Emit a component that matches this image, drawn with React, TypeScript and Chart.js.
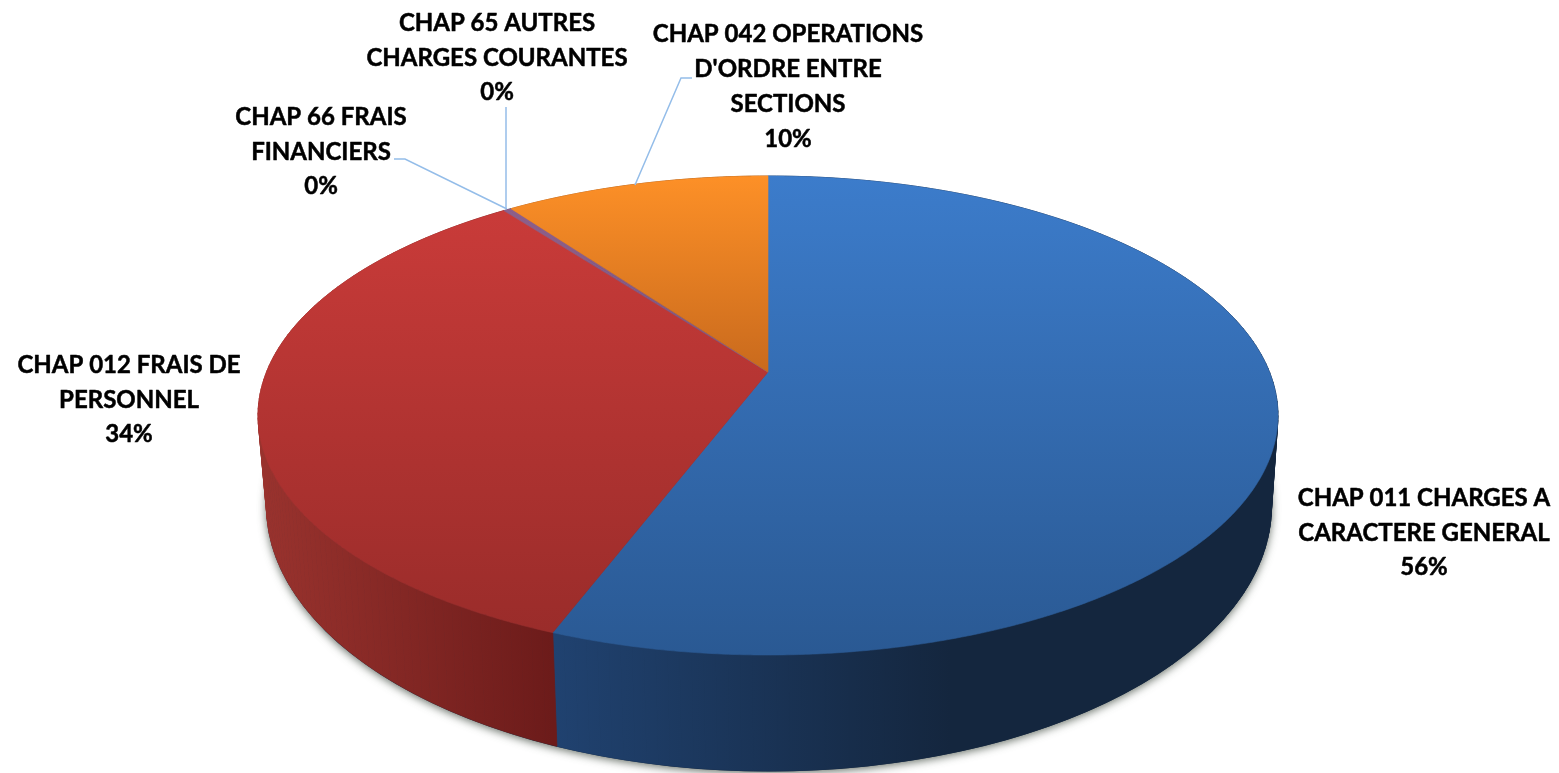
import React, { useEffect, useRef } from "react";
import { Chart, registerables } from "chart.js";

Chart.register(...registerables);

const categories = [
  "CHAP 011 CHARGES A CARACTERE GENERAL",
  "CHAP 012 FRAIS DE PERSONNEL",
  "CHAP 66 FRAIS FINANCIERS",
  "CHAP 65 AUTRES CHARGES COURANTES",
  "CHAP 042 OPERATIONS D'ORDRE ENTRE SECTIONS",
];
const values = [55.8, 33.9, 0.15, 0.15, 10.0];
const labelLines = [
  ["CHAP 011 CHARGES A", "CARACTERE GENERAL"],
  ["CHAP 012 FRAIS DE", "PERSONNEL"],
  ["CHAP 66 FRAIS", "FINANCIERS"],
  ["CHAP 65 AUTRES", "CHARGES COURANTES"],
  ["CHAP 042 OPERATIONS", "D'ORDRE ENTRE", "SECTIONS"],
];
const faceTop = ["#3c7ccb", "#c93b39", "#8c5f8c", "#8c5f8c", "#fd9027"];
const faceBottom = ["#2a5993", "#9a2c2a", "#835a82", "#835a82", "#c96a1d"];
const wallLeft = ["#204270", "#9a332e", "#4c3b62", "#2c6675", "#a85716"];
const wallRight = ["#14263e", "#6c1b1a", "#3c2f4e", "#235260", "#8a4712"];

const labelBoxes = [
  { x: 1424, y: 498 },
  { x: 129, y: 365 },
  { x: 321, y: 117 },
  { x: 497, y: 23 },
  { x: 788, y: 34.5 },
];
const leaders = [
  null,
  null,
  [[394, 159], [405, 159], [507, 209]],
  [[506, 107], [506, 209]],
  [[692, 78], [681, 78], [635, 185]],
];

// Perspective model of the pie's top face and the elliptical bottom rim
const VIEW = {
  apexX: 768, apexY: 372, a: 501.5, b: 231.6, k: 0.1816,
  topCy: 415.5, topRx: 510.5, topRy: 240,
  lowCx: 769, lowCy: 506, lowRx: 503, lowRy: 265.5,
};
const LINE = 34.8;
const FONT = "bold 24px Lato, 'Open Sans', sans-serif";

function projectTop(angle: number) {
  const ux = Math.cos(angle), uy = Math.sin(angle);
  const w = 1 - VIEW.k * uy;
  return { x: VIEW.apexX + (VIEW.a * ux) / w, y: VIEW.apexY + (VIEW.b * uy) / w };
}
function projectLow(angle: number) {
  const p = projectTop(angle);
  return {
    x: VIEW.lowCx + (VIEW.lowRx * (p.x - VIEW.apexX)) / VIEW.topRx,
    y: VIEW.lowCy + (VIEW.lowRy * (p.y - VIEW.topCy)) / VIEW.topRy,
  };
}
function ring(a0: number, a1: number, fn: (a: number) => { x: number; y: number }, step = 0.006) {
  const n = Math.max(2, Math.ceil(Math.abs(a1 - a0) / step));
  const out = [];
  for (let i = 0; i <= n; i++) out.push(fn(a0 + ((a1 - a0) * i) / n));
  return out;
}

const pie3d = {
  id: "pie3d",
  beforeDatasetsDraw(chart: any) {
    const ctx: CanvasRenderingContext2D = chart.ctx;
    const arcs = chart.getDatasetMeta(0).data;

    // soft shadow under the bottom rim
    ctx.save();
    ctx.shadowColor = "rgba(70,80,70,0.8)";
    ctx.shadowBlur = 9;
    ctx.shadowOffsetY = 2;
    ctx.fillStyle = "#14263e";
    ctx.beginPath();
    ctx.ellipse(VIEW.lowCx, VIEW.lowCy, VIEW.lowRx, VIEW.lowRy, 0, 0, Math.PI * 2);
    ctx.fill();
    ctx.restore();

    // side walls, filled strip by strip so the silhouette between rims is closed
    arcs.forEach((arc: any, i: number) => {
      const top = ring(arc.startAngle, arc.endAngle, projectTop, 0.02);
      const low = ring(arc.startAngle, arc.endAngle, projectLow, 0.02);
      const visible = top.filter((p) => p.y > VIEW.topCy).map((p) => p.x);
      const xs = visible.length ? visible : top.map((p) => p.x);
      const g = ctx.createLinearGradient(Math.min(...xs), 0, Math.max(...xs), 0);
      if (i === 0) {
        g.addColorStop(0, wallLeft[i]);
        g.addColorStop(0.55, wallRight[i]);
        g.addColorStop(1, wallRight[i]);
      } else {
        g.addColorStop(0, wallLeft[i]);
        g.addColorStop(1, wallRight[i]);
      }
      ctx.fillStyle = g;
      ctx.strokeStyle = g;
      ctx.lineWidth = 0.8;
      for (let j = 0; j < top.length - 1; j++) {
        ctx.beginPath();
        ctx.moveTo(top[j].x, top[j].y);
        ctx.lineTo(top[j + 1].x, top[j + 1].y);
        ctx.lineTo(low[j + 1].x, low[j + 1].y);
        ctx.lineTo(low[j].x, low[j].y);
        ctx.closePath();
        ctx.fill();
        ctx.stroke();
      }
    });

    // top faces
    arcs.forEach((arc: any, i: number) => {
      const pts = ring(arc.startAngle, arc.endAngle, projectTop);
      pts.push({ x: VIEW.apexX, y: VIEW.apexY });
      const ys = pts.map((p) => p.y);
      const g = ctx.createLinearGradient(0, Math.min(...ys), 0, Math.max(...ys));
      g.addColorStop(0, faceTop[i]);
      g.addColorStop(1, faceBottom[i]);
      ctx.fillStyle = g;
      ctx.strokeStyle = g;
      ctx.lineWidth = 0.6;
      ctx.beginPath();
      pts.forEach((p, j) => (j ? ctx.lineTo(p.x, p.y) : ctx.moveTo(p.x, p.y)));
      ctx.closePath();
      ctx.fill();
      ctx.stroke();
    });

    // leader lines
    ctx.strokeStyle = "#94bde9";
    ctx.lineWidth = 1.5;
    leaders.forEach((path) => {
      if (!path) return;
      ctx.beginPath();
      path.forEach((p, j) => (j ? ctx.lineTo(p[0], p[1]) : ctx.moveTo(p[0], p[1])));
      ctx.stroke();
    });

    // data labels
    const total = values.reduce((s, v) => s + v, 0);
    ctx.fillStyle = "#000000";
    ctx.strokeStyle = "#000000";
    ctx.lineWidth = 0.5;
    ctx.lineJoin = "round";
    ctx.font = FONT;
    ctx.textAlign = "center";
    ctx.textBaseline = "middle";
    labelLines.forEach((lines, i) => {
      const box = labelBoxes[i];
      const all = lines.concat(`${Math.round((values[i] / total) * 100)}%`);
      all.forEach((t, j) => {
        ctx.fillText(t, box.x, box.y + j * LINE);
        ctx.strokeText(t, box.x, box.y + j * LINE);
      });
    });
    return false;
  },
};

export default function App() {
  const ref = useRef<HTMLCanvasElement>(null);
  useEffect(() => {
    document.body.style.margin = "0";
    document.body.style.background = "#ffffff";
    const chart = new Chart(ref.current!, {
      type: "pie",
      data: {
        labels: categories,
        datasets: [{ data: values, backgroundColor: faceTop, borderWidth: 0 }],
      },
      options: {
        responsive: false,
        animation: false,
        plugins: { legend: { display: false }, tooltip: { enabled: false } },
      },
      plugins: [pie3d],
    } as any);
    return () => chart.destroy();
  }, []);
  return <canvas ref={ref} width={1559} height={773} style={{ display: "block" }} />;
}
